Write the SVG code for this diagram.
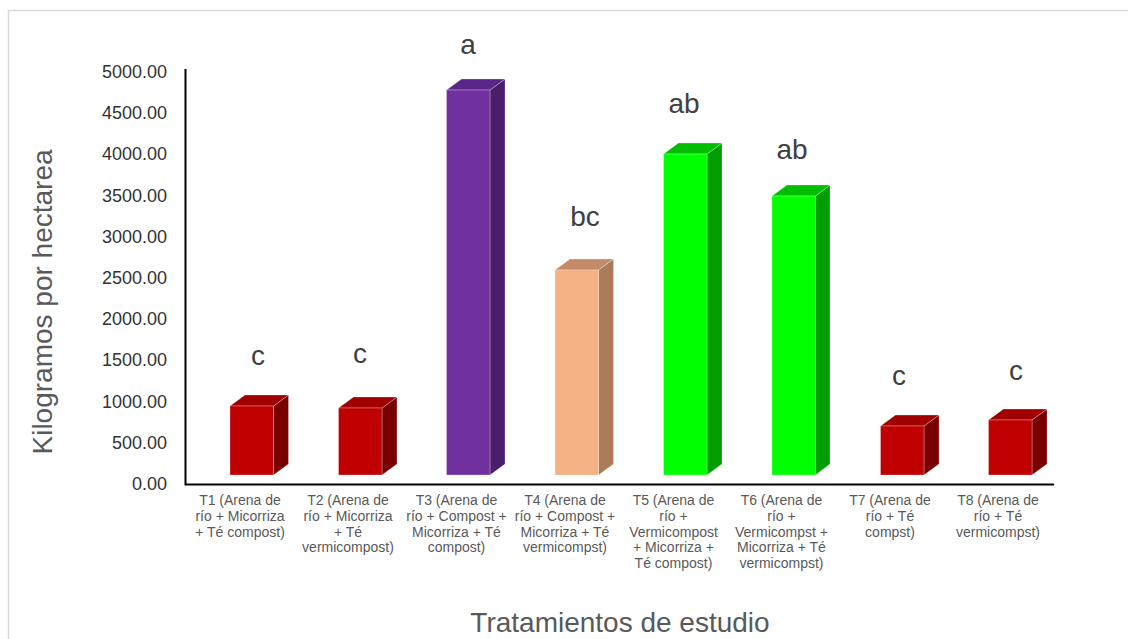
<svg xmlns="http://www.w3.org/2000/svg" width="1128" height="639" viewBox="0 0 1128 639">
<style>
text{font-family:"Liberation Sans",Arial,sans-serif}
.tick{font-size:18px;fill:#333333;text-anchor:end}
.cat{font-size:14px;fill:#595959;text-anchor:middle}
.sig{font-size:28px;fill:#404040;text-anchor:middle}
.title{font-size:28px;fill:#595959;text-anchor:middle}
.edge{stroke:#ffffff;stroke-opacity:0.35;stroke-width:0.8}
.r .f{fill:#C00000}.r .s{fill:#7A0000}.r .t{fill:#A00000}
.p .f{fill:#7030A0}.p .s{fill:#4A1E6B}.p .t{fill:#5A2688}
.o .f{fill:#F4B183}.o .s{fill:#A97B5B}.o .t{fill:#C48B68}
.g .f{fill:#00FF00}.g .s{fill:#009E00}.g .t{fill:#00BE00}
</style>
<rect x="0" y="0" width="1128" height="639" fill="#ffffff"/>
<path d="M8.5 639 V10.5 H1128" fill="none" stroke="#D9D9D9" stroke-width="1.5"/>

<g id="y-axis">
<text class="tick" x="167" y="78">5000.00</text>
<text class="tick" x="167" y="119">4500.00</text>
<text class="tick" x="167" y="160">4000.00</text>
<text class="tick" x="167" y="202">3500.00</text>
<text class="tick" x="167" y="243">3000.00</text>
<text class="tick" x="167" y="284">2500.00</text>
<text class="tick" x="167" y="325">2000.00</text>
<text class="tick" x="167" y="366">1500.00</text>
<text class="tick" x="167" y="408">1000.00</text>
<text class="tick" x="167" y="449">500.00</text>
<text class="tick" x="167" y="490">0.00</text>
<text class="title" transform="translate(52,302) rotate(-90)">Kilogramos por hectarea</text>
</g>

<g id="connectors">
<path d="M185.5 69 V484.5 H1054" fill="none" stroke="#000000" stroke-width="2"/>
</g>

<g id="T1" class="r">
<path class="s edge" d="M273.5 406 L288.5 395 V464 L273.5 475 Z"/>
<path class="t edge" d="M230 406 H273.5 L288.5 395 H245 Z"/>
<rect class="f edge" x="230" y="406" width="43.5" height="69"/>
<text class="sig" x="258" y="365">c</text>
<text class="cat" x="240" y="505">T1 (Arena de</text>
<text class="cat" x="240" y="521">río + Micorriza</text>
<text class="cat" x="240" y="537">+ Té compost)</text>
</g>

<g id="T2" class="r">
<path class="s edge" d="M382 408 L397 397 V464 L382 475 Z"/>
<path class="t edge" d="M338.5 408 H382 L397 397 H353.5 Z"/>
<rect class="f edge" x="338.5" y="408" width="43.5" height="67"/>
<text class="sig" x="360" y="363">c</text>
<text class="cat" x="348" y="505">T2 (Arena de</text>
<text class="cat" x="348" y="521">río + Micorriza</text>
<text class="cat" x="348" y="537">+ Té</text>
<text class="cat" x="348" y="552">vermicompost)</text>
</g>

<g id="T3" class="p">
<path class="s edge" d="M490 90 L505 79 V464 L490 475 Z"/>
<path class="t edge" d="M446.5 90 H490 L505 79 H461.5 Z"/>
<rect class="f edge" x="446.5" y="90" width="43.5" height="385"/>
<text class="sig" x="468" y="54">a</text>
<text class="cat" x="456.5" y="505">T3 (Arena de</text>
<text class="cat" x="456.5" y="521">río + Compost +</text>
<text class="cat" x="456.5" y="537">Micorriza + Té</text>
<text class="cat" x="456.5" y="552">compost)</text>
</g>

<g id="T4" class="o">
<path class="s edge" d="M598.5 270 L613.5 259 V464 L598.5 475 Z"/>
<path class="t edge" d="M555 270 H598.5 L613.5 259 H570 Z"/>
<rect class="f edge" x="555" y="270" width="43.5" height="205"/>
<text class="sig" x="585" y="226">bc</text>
<text class="cat" x="565" y="505">T4 (Arena de</text>
<text class="cat" x="565" y="521">río + Compost +</text>
<text class="cat" x="565" y="537">Micorriza + Té</text>
<text class="cat" x="565" y="552">vermicompst)</text>
</g>

<g id="T5" class="g">
<path class="s edge" d="M707 154 L722 143 V464 L707 475 Z"/>
<path class="t edge" d="M663.5 154 H707 L722 143 H678.5 Z"/>
<rect class="f edge" x="663.5" y="154" width="43.5" height="321"/>
<text class="sig" x="684" y="113">ab</text>
<text class="cat" x="673.5" y="505">T5 (Arena de</text>
<text class="cat" x="673.5" y="521">río +</text>
<text class="cat" x="673.5" y="537">Vermicompost</text>
<text class="cat" x="673.5" y="552">+ Micorriza +</text>
<text class="cat" x="673.5" y="568">Té compost)</text>
</g>

<g id="T6" class="g">
<path class="s edge" d="M815.5 196 L830 185 V464 L815.5 475 Z"/>
<path class="t edge" d="M772 196 H815.5 L830 185 H787 Z"/>
<rect class="f edge" x="772" y="196" width="43.5" height="279"/>
<text class="sig" x="792" y="159">ab</text>
<text class="cat" x="781.5" y="505">T6 (Arena de</text>
<text class="cat" x="781.5" y="521">río +</text>
<text class="cat" x="781.5" y="537">Vermicompst +</text>
<text class="cat" x="781.5" y="552">Micorriza + Té</text>
<text class="cat" x="781.5" y="568">vermicompst)</text>
</g>

<g id="T7" class="r">
<path class="s edge" d="M924 426 L939 415 V464 L924 475 Z"/>
<path class="t edge" d="M880.5 426 H924 L939 415 H895.5 Z"/>
<rect class="f edge" x="880.5" y="426" width="43.5" height="49"/>
<text class="sig" x="899" y="385">c</text>
<text class="cat" x="890" y="505">T7 (Arena de</text>
<text class="cat" x="890" y="521">río + Té</text>
<text class="cat" x="890" y="537">compst)</text>
</g>

<g id="T8" class="r">
<path class="s edge" d="M1032 420 L1047 409 V464 L1032 475 Z"/>
<path class="t edge" d="M988.5 420 H1032 L1047 409 H1003.5 Z"/>
<rect class="f edge" x="988.5" y="420" width="43.5" height="55"/>
<text class="sig" x="1016" y="380">c</text>
<text class="cat" x="998" y="505">T8 (Arena de</text>
<text class="cat" x="998" y="521">río + Té</text>
<text class="cat" x="998" y="537">vermicompst)</text>
</g>

<text class="title" x="620" y="632">Tratamientos de estudio</text>
</svg>
